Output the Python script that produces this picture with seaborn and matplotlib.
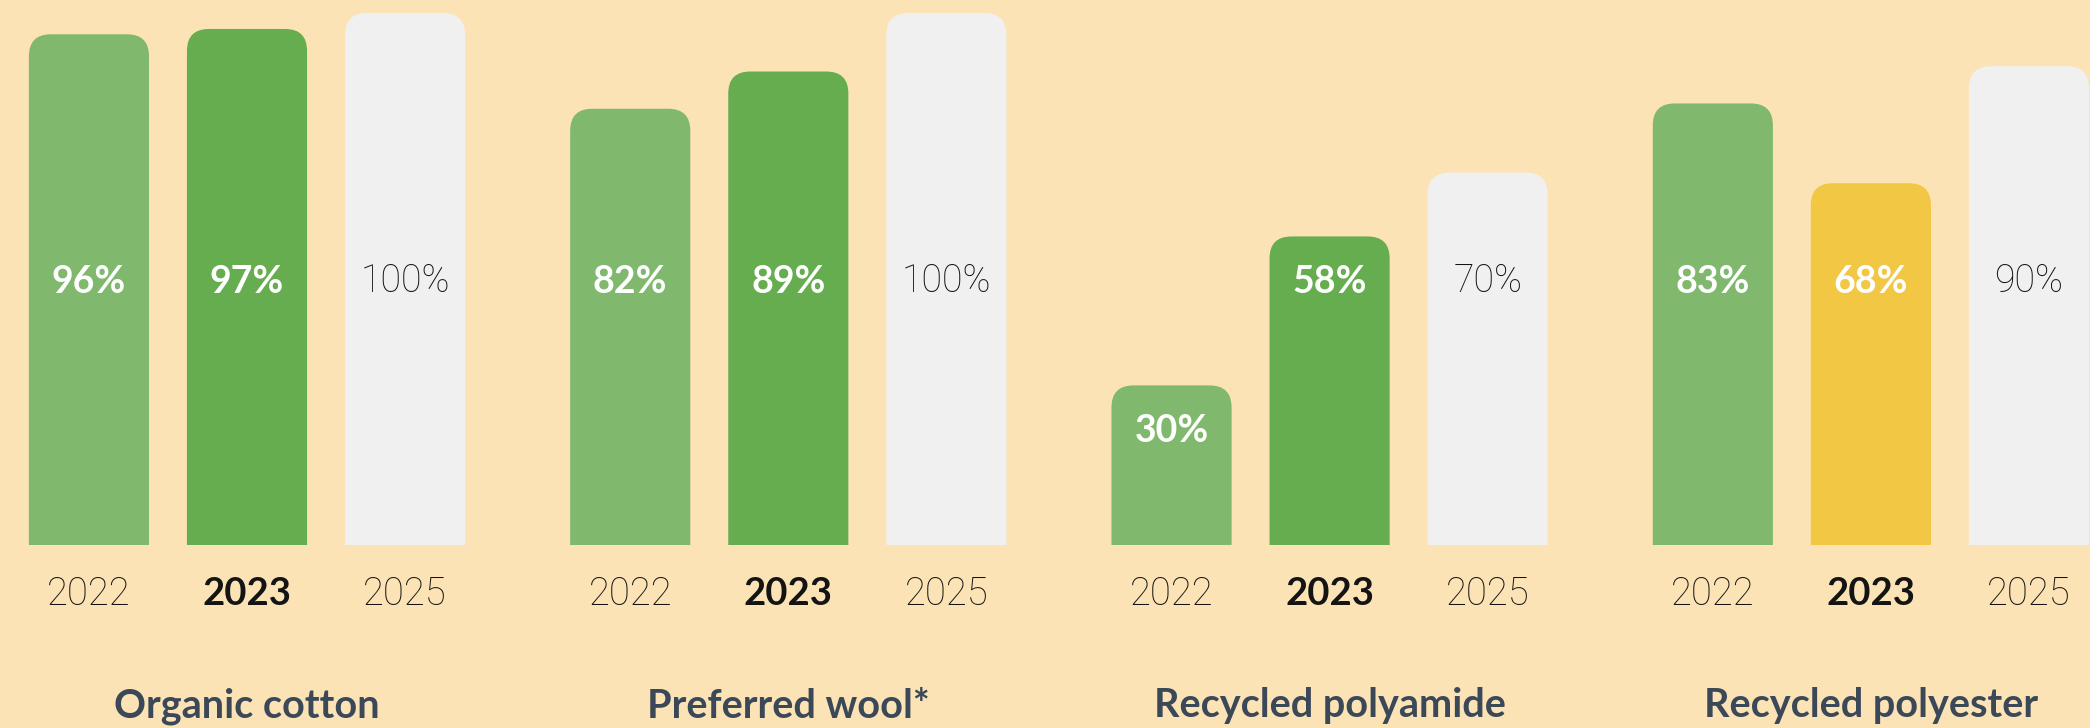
import matplotlib
matplotlib.use("Agg")
import matplotlib.pyplot as plt
import seaborn as sns
import pandas as pd
from matplotlib.patches import FancyBboxPatch

# ---------------- data ----------------
materials = ["Organic cotton", "Preferred wool*", "Recycled polyamide", "Recycled polyester"]
years = ["2022", "2023", "2025"]
values_2022 = [96, 82, 30, 83]
values_2023 = [97, 89, 58, 68]
values_2025 = [100, 100, 70, 90]

# ---------------- style ----------------
BG = "#FBE3B5"
LIGHT_GREEN = "#80B96E"
DARK_GREEN = "#66AD50"
YELLOW = "#F2C744"
GREY = "#F0F0F0"
colors_by_year = {
    "2022": [LIGHT_GREEN] * 4,
    "2023": [DARK_GREEN, DARK_GREEN, DARK_GREEN, YELLOW],
    "2025": [GREY] * 4,
}
label_color_by_year = {"2022": "white", "2023": "white", "2025": "#141414"}
bold_by_year = {"2022": True, "2023": True, "2025": False}
year_bold = {"2022": False, "2023": True, "2025": False}

sns.set_theme(style="white")
plt.rcParams["font.family"] = ["Lato", "DejaVu Sans"]
LIGHT_FONT = dict(family=["Roboto", "DejaVu Sans"], fontweight="light")
BOLD_FONT = dict(family=["Lato", "DejaVu Sans"], fontweight="bold")

df = pd.DataFrame({
    "material": materials * 3,
    "year": ["2022"] * 4 + ["2023"] * 4 + ["2025"] * 4,
    "value": values_2022 + values_2023 + values_2025,
})

W, H = 2090, 728
fig = plt.figure(figsize=(W / 100, H / 100), dpi=100, facecolor=BG)
base_px = 545          # baseline from top
ax = fig.add_axes([0, (H - base_px) / H, 1, base_px / H])
ax.set_facecolor(BG)

sns.barplot(data=df, x="material", y="value", hue="year", order=materials,
            hue_order=years, width=0.876, gap=0.24, saturation=1,
            palette={y: "#000000" for y in years}, legend=False, ax=ax)

px_per_x = 541.3
px_per_y = 5.32
ax.set_xlim(-247 / px_per_x, (W - 247) / px_per_x)
ax.set_ylim(0, base_px / px_per_y)

radius_px = 22
rx = radius_px / px_per_x
ry = radius_px / px_per_y

for year, cont in zip(years, ax.containers):
    for i, bar in enumerate(cont):
        x0, w, h = bar.get_x(), bar.get_width(), bar.get_height()
        bar.set_visible(False)
        patch = FancyBboxPatch((x0, -3 * ry), w, h + 3 * ry,
                               boxstyle=f"round,pad=0,rounding_size={rx}",
                               mutation_aspect=ry / rx,
                               fc=colors_by_year[year][i], ec="none")
        ax.add_patch(patch)
        cx = x0 + w / 2
        ly = min(49.5, h - 8.5)
        font = BOLD_FONT if bold_by_year[year] else LIGHT_FONT
        ax.text(cx, ly, f"{h:.0f}%", ha="center", va="center",
                fontsize=27, color=label_color_by_year[year], **font)
        yfont = BOLD_FONT if year_bold[year] else LIGHT_FONT
        ax.text(cx, -49 / px_per_y, year, ha="center", va="center",
                fontsize=27.5, color="#141414", clip_on=False, **yfont)

for i, m in enumerate(materials):
    ax.text(i, -161 / px_per_y, m, ha="center", va="center", fontsize=28.5,
            color="#3A4858", clip_on=False, **BOLD_FONT)

ax.set_xticks([])
ax.set_yticks([])
ax.set_xlabel("")
ax.set_ylabel("")
for s in ax.spines.values():
    s.set_visible(False)

fig.savefig("out.png", dpi=100, facecolor=BG)
